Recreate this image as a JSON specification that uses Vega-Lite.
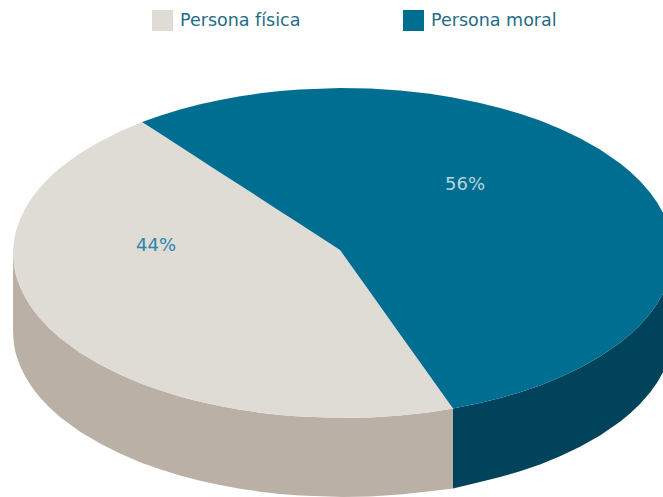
{"$schema":"https://vega.github.io/schema/vega-lite/v6.json","width":663,"height":497,"padding":0,"autosize":{"type":"none"},"background":"white","view":{"stroke":null},"config":{"font":"DejaVu Sans"},
"datasets":{"pie":[
{"p":"Persona física lado","x":13,"a":253,"b":332},{"p":"Persona física lado","x":14,"a":265.8,"b":344.8},{"p":"Persona física lado","x":16,"a":275.2,"b":354.2},{"p":"Persona física lado","x":20,"a":286.8,"b":365.8},{"p":"Persona física lado","x":25,"a":297.1,"b":376.1},{"p":"Persona física lado","x":30,"a":305.3,"b":384.3},{"p":"Persona física lado","x":35,"a":312.2,"b":391.2},{"p":"Persona física lado","x":40,"a":318.4,"b":397.4},{"p":"Persona física lado","x":50,"a":328.9,"b":407.9},{"p":"Persona física lado","x":60,"a":337.9,"b":416.9},{"p":"Persona física lado","x":80,"a":352.7,"b":431.7},{"p":"Persona física lado","x":100,"a":364.6,"b":443.6},{"p":"Persona física lado","x":120,"a":374.6,"b":453.6},{"p":"Persona física lado","x":142,"a":383.9,"b":462.9},{"p":"Persona física lado","x":160,"a":390.3,"b":469.3},{"p":"Persona física lado","x":180,"a":396.5,"b":475.5},{"p":"Persona física lado","x":200,"a":401.7,"b":480.7},{"p":"Persona física lado","x":220,"a":406.1,"b":485.1},{"p":"Persona física lado","x":240,"a":409.8,"b":488.8},{"p":"Persona física lado","x":260,"a":412.7,"b":491.7},{"p":"Persona física lado","x":280,"a":415,"b":494},{"p":"Persona física lado","x":300,"a":416.6,"b":495.6},{"p":"Persona física lado","x":343,"a":418,"b":497},{"p":"Persona física lado","x":370,"a":417.4,"b":496.4},{"p":"Persona física lado","x":400,"a":415.5,"b":494.5},{"p":"Persona física lado","x":430,"a":412.2,"b":491.2},{"p":"Persona física lado","x":453,"a":408.6,"b":488.6},
{"p":"Persona moral lado","x":453,"a":408.6,"b":488.6},{"p":"Persona moral lado","x":480,"a":403.1,"b":482.1},{"p":"Persona moral lado","x":500,"a":398.1,"b":477.1},{"p":"Persona moral lado","x":520,"a":392.3,"b":471.3},{"p":"Persona moral lado","x":540,"a":385.4,"b":464.4},{"p":"Persona moral lado","x":560,"a":377.3,"b":456.3},{"p":"Persona moral lado","x":580,"a":367.8,"b":446.8},{"p":"Persona moral lado","x":600,"a":356.5,"b":435.5},{"p":"Persona moral lado","x":620,"a":342.7,"b":421.7},{"p":"Persona moral lado","x":630,"a":334.4,"b":413.4},{"p":"Persona moral lado","x":640,"a":324.9,"b":403.9},{"p":"Persona moral lado","x":650,"a":313.5,"b":392.5},{"p":"Persona moral lado","x":657,"a":303.8,"b":382.8},{"p":"Persona moral lado","x":663,"a":293.3,"b":372.3},
{"p":"Persona física","x":13,"a":253,"b":253},{"p":"Persona física","x":14,"a":240.2,"b":265.8},{"p":"Persona física","x":16,"a":230.8,"b":275.2},{"p":"Persona física","x":20,"a":219.2,"b":286.8},{"p":"Persona física","x":25,"a":208.9,"b":297.1},{"p":"Persona física","x":30,"a":200.7,"b":305.3},{"p":"Persona física","x":35,"a":193.8,"b":312.2},{"p":"Persona física","x":40,"a":187.6,"b":318.4},{"p":"Persona física","x":50,"a":177.1,"b":328.9},{"p":"Persona física","x":60,"a":168.1,"b":337.9},{"p":"Persona física","x":80,"a":153.3,"b":352.7},{"p":"Persona física","x":100,"a":141.4,"b":364.6},{"p":"Persona física","x":120,"a":131.4,"b":374.6},{"p":"Persona física","x":142,"a":122.1,"b":383.9},{"p":"Persona física","x":160,"a":133.6,"b":390.3},{"p":"Persona física","x":180,"a":146.6,"b":396.5},{"p":"Persona física","x":200,"a":159.5,"b":401.7},{"p":"Persona física","x":220,"a":172.4,"b":406.1},{"p":"Persona física","x":240,"a":185.3,"b":409.8},{"p":"Persona física","x":260,"a":198.2,"b":412.7},{"p":"Persona física","x":280,"a":211.2,"b":415},{"p":"Persona física","x":300,"a":224.1,"b":416.6},{"p":"Persona física","x":340,"a":250,"b":418},{"p":"Persona física","x":370,"a":292.1,"b":417.4},{"p":"Persona física","x":400,"a":334.2,"b":415.5},{"p":"Persona física","x":430,"a":376.3,"b":412.2},{"p":"Persona física","x":453,"a":408.6,"b":408.6},
{"p":"Persona moral","x":142,"a":122.1,"b":122.1},{"p":"Persona moral","x":160,"a":115.7,"b":133.6},{"p":"Persona moral","x":180,"a":109.5,"b":146.6},{"p":"Persona moral","x":200,"a":104.3,"b":159.5},{"p":"Persona moral","x":220,"a":99.9,"b":172.4},{"p":"Persona moral","x":240,"a":96.2,"b":185.3},{"p":"Persona moral","x":260,"a":93.3,"b":198.2},{"p":"Persona moral","x":280,"a":91,"b":211.2},{"p":"Persona moral","x":300,"a":89.4,"b":224.1},{"p":"Persona moral","x":340,"a":88,"b":250},{"p":"Persona moral","x":370,"a":88.6,"b":292.1},{"p":"Persona moral","x":400,"a":90.5,"b":334.2},{"p":"Persona moral","x":430,"a":93.8,"b":376.3},{"p":"Persona moral","x":453,"a":97.4,"b":408.6},{"p":"Persona moral","x":480,"a":102.9,"b":403.1},{"p":"Persona moral","x":500,"a":107.9,"b":398.1},{"p":"Persona moral","x":520,"a":113.7,"b":392.3},{"p":"Persona moral","x":540,"a":120.6,"b":385.4},{"p":"Persona moral","x":560,"a":128.7,"b":377.3},{"p":"Persona moral","x":580,"a":138.2,"b":367.8},{"p":"Persona moral","x":600,"a":149.5,"b":356.5},{"p":"Persona moral","x":620,"a":163.3,"b":342.7},{"p":"Persona moral","x":630,"a":171.6,"b":334.4},{"p":"Persona moral","x":640,"a":181.1,"b":324.9},{"p":"Persona moral","x":650,"a":192.5,"b":313.5},{"p":"Persona moral","x":657,"a":202.2,"b":303.8},{"p":"Persona moral","x":663,"a":212.7,"b":293.3}
],"labels":[{"label":"44%","x":156,"y":246,"c":"Persona física"},{"label":"56%","x":465,"y":185,"c":"Persona moral"}]},
"layer":[
{"data":{"name":"pie"},"mark":{"type":"area","orient":"vertical","opacity":1},
"encoding":{"x":{"field":"x","type":"quantitative","scale":{"domain":[0,663],"nice":false,"zero":false},"axis":null},"y":{"field":"a","type":"quantitative","stack":null,"scale":{"domain":[497,0],"nice":false,"zero":false},"axis":null},"y2":{"field":"b"},
"color":{"field":"p","type":"nominal","sort":null,"scale":{"domain":["Persona física lado","Persona moral lado","Persona física","Persona moral"],"range":["#bab0a6","#00435a","#dfdbd5","#006e91"]},
"legend":{"title":null,"values":["Persona física","Persona moral"],"orient":"none","legendX":152,"legendY":10,"direction":"horizontal","columns":2,"symbolType":"square","symbolSize":441,"symbolStrokeWidth":0,"symbolOpacity":1,"labelFont":"DejaVu Sans","labelFontSize":17.5,"labelColor":"#1f6c88","labelOffset":7,"columnPadding":102,"labelLimit":200}}}},
{"data":{"name":"labels"},"mark":{"type":"text","font":"DejaVu Sans","fontSize":18,"align":"center","baseline":"middle"},
"encoding":{"x":{"field":"x","type":"quantitative"},"y":{"field":"y","type":"quantitative"},"text":{"field":"label"},"color":{"field":"c","type":"nominal","legend":null,"scale":{"domain":["Persona física","Persona moral"],"range":["#2a86ad","#b5d5e0"]}}}}
],"resolve":{"scale":{"color":"independent"}}}
